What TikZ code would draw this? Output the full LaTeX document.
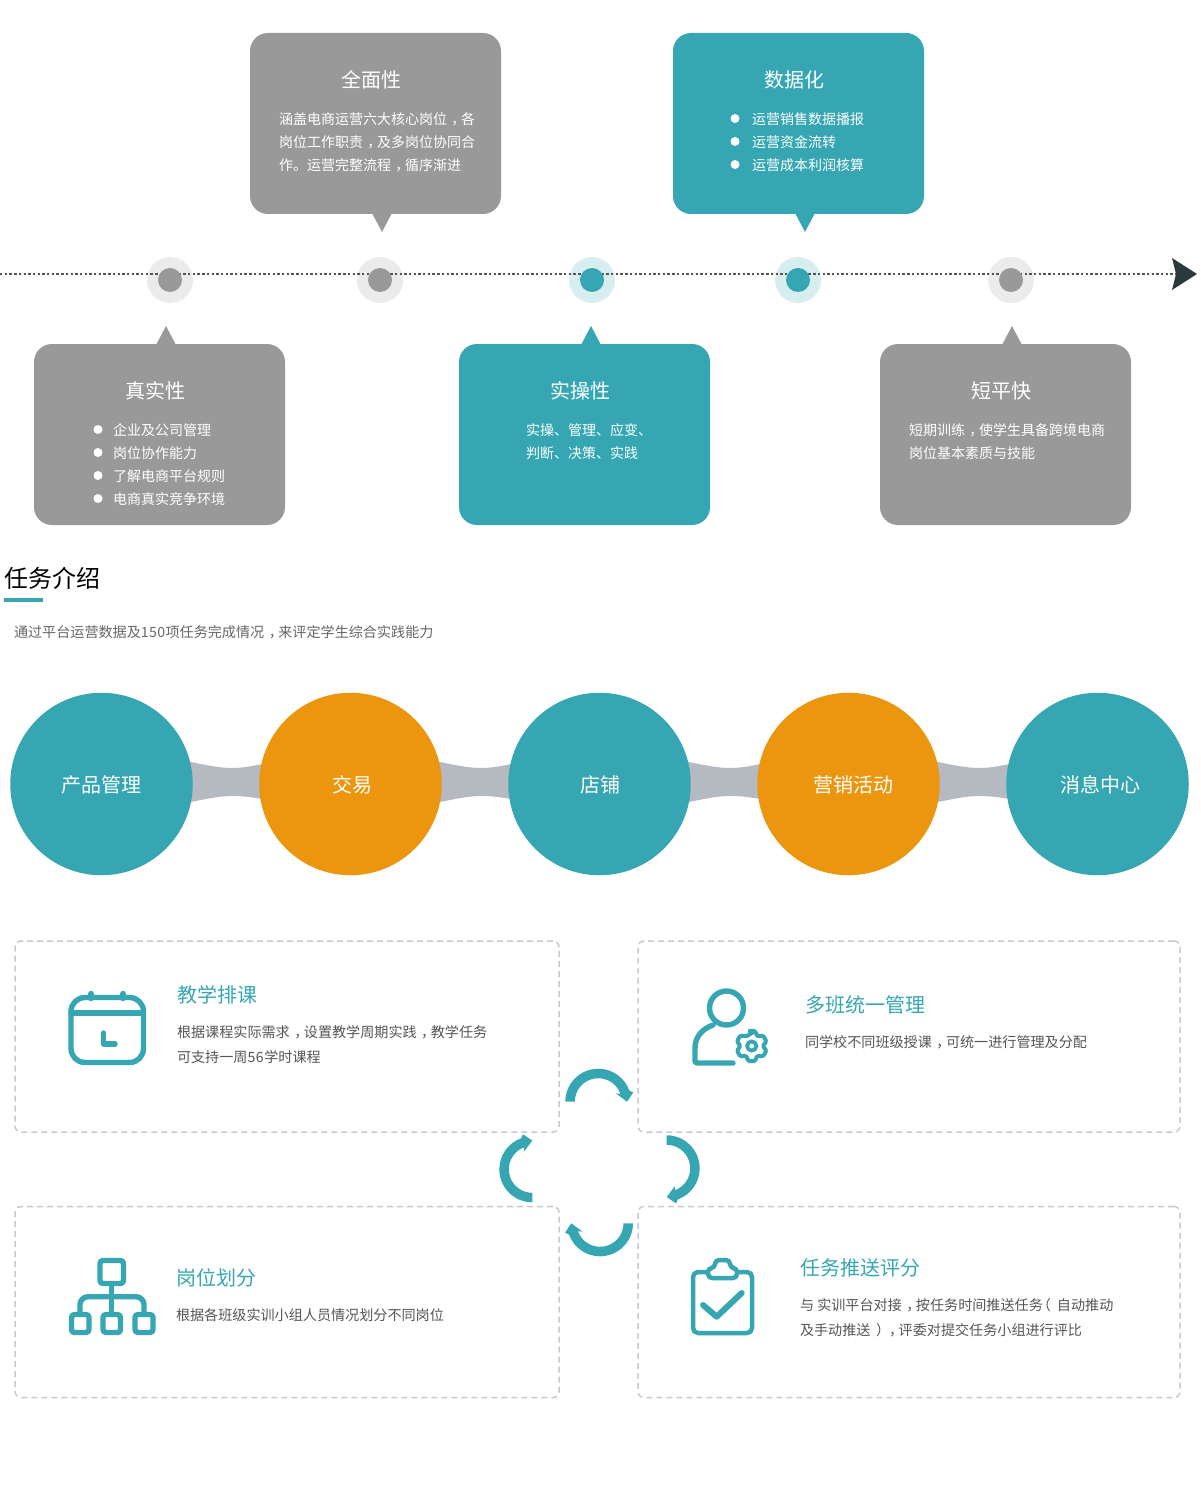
\documentclass[tikz,border=0pt]{standalone}
\usepackage{fontspec}
\setmainfont{Noto Sans CJK SC}
\definecolor{teal}{HTML}{35A6B2}
\definecolor{orng}{HTML}{EC9610}
\definecolor{gry}{HTML}{999999}
\definecolor{halo}{HTML}{EBEBEB}
\definecolor{tealhalo}{HTML}{D7EDF0}
\definecolor{band}{HTML}{B5BAC1}
\definecolor{dashc}{HTML}{C6C9CE}
\definecolor{bodyc}{HTML}{555555}
\definecolor{linec}{HTML}{555555}
\definecolor{arrowc}{HTML}{29393C}
\newcommand{\zc}{\hspace*{.32em}，\hspace*{-.32em}}
\newcommand{\zl}{\hspace*{-.42em}（\hspace*{.42em}}
\newcommand{\zr}{\hspace*{.4em}）\hspace*{-.4em}}
\tikzset{
  txt/.style={inner sep=0pt,outer sep=0pt},
  s14/.style={text height=12.74pt,text depth=1.26pt,font=\fontsize{14}{14}\selectfont},
  s20/.style={text height=17.6pt,text depth=2.4pt,font=\fontsize{20}{20}\selectfont},
  bwhite/.style={txt,s14,anchor=west,text=white},
  twhite/.style={txt,s20,anchor=center,text=white},
  body/.style={txt,s14,anchor=west,text=bodyc,font=\fontsize{14.1}{14}\selectfont},
  ttl/.style={txt,s20,anchor=west,text=teal},
  bubble/.style={rectangle,rounded corners=18pt,minimum width=251pt,minimum height=181pt,inner sep=0pt,outer sep=0pt},
  bigc/.style={circle,minimum size=182.5pt,inner sep=0pt,outer sep=0pt},
  card/.style={rectangle,draw=dashc,line width=1.5pt,dash pattern=on 6pt off 4pt,rounded corners=6pt,inner sep=0pt,outer sep=0pt},
  dothalo/.style={circle,minimum size=46pt,inner sep=0pt,outer sep=0pt},
  dotin/.style={circle,minimum size=24pt,inner sep=0pt,outer sep=0pt},
  bull/.style={circle,fill=white,minimum size=9pt,inner sep=0pt,outer sep=0pt},
  ico/.style={draw=teal,line width=5.4pt,line cap=round,line join=round},
}
\newcommand{\cyclearrow}[3]{%
  \fill[teal,x=1pt,y=1pt,shift={(#1,-#2)},rotate=#3]
    (180:33pt) arc[start angle=180,end angle=20,radius=33pt]
    -- (35pt,9.3pt) -- (28.7pt,0pt) -- (17.7pt,8.3pt)
    -- (20:23.5pt) arc[start angle=20,end angle=180,radius=23.5pt] -- cycle;}
\begin{document}
\begin{tikzpicture}[x=1pt,y=-1pt]
\useasboundingbox (0,0) rectangle (1200,1487);
% timeline halos
\foreach \n/\x/\c in {h1/170/halo,h2/380/halo,h3/592/tealhalo,h4/798/tealhalo,h5/1011/halo}
  \node[dothalo,fill=\c] (\n) at (\x,280) {};
\coordinate (tl0) at (0,274);
\coordinate (tl1) at (1176,274);
\draw[line width=1.3pt,color=linec,dash pattern=on 2.4pt off 2.3pt] (tl0) -- (tl1);
\foreach \n/\x/\c in {d1/170/gry,d2/380/gry,d3/592/teal,d4/798/teal,d5/1011/gry}
  \node[dotin,fill=\c] (\n) at (\x,280) {};
\fill[arrowc] (1172,258) -- (1197,274) -- (1172,290) -- (1176,274) -- cycle;
% bubbles
\node[bubble,fill=gry] (b1) at (375.5,123.5) {};
\fill[gry] (372,213) -- (392,213) -- (382,232) -- cycle;
\node[bubble,fill=teal] (b2) at (798.5,123.5) {};
\fill[teal] (795,213) -- (815,213) -- (805,232) -- cycle;
\node[bubble,fill=gry] (b3) at (159.5,434.5) {};
\fill[gry] (156,345) -- (176,345) -- (166,326) -- cycle;
\node[bubble,fill=teal] (b4) at (584.5,434.5) {};
\fill[teal] (581,345) -- (601,345) -- (591,326) -- cycle;
\node[bubble,fill=gry] (b5) at (1005.5,434.5) {};
\fill[gry] (1002,345) -- (1022,345) -- (1012,326) -- cycle;
% bubble text
\node[twhite] (t1) at (371,80) {全面性};
\node[bwhite] (t1a) at (279,119) {涵盖电商运营六大核心岗位\zc 各};
\node[bwhite] (t1b) at (279,142) {岗位工作职责\zc 及多岗位协同合};
\node[bwhite] (t1c) at (279,165) {作。运营完整流程\zc 循序渐进};
\node[twhite] (t2) at (794,80) {数据化};
\foreach \n/\y/\s in {a/119/运营销售数据播报,b/142/运营资金流转,c/165/运营成本利润核算}{
  \node[bull] (p2\n) at (735,\y-0.5) {};
  \node[bwhite] (t2\n) at (752,\y) {\s};
}
\node[twhite] (t3) at (155,391) {真实性};
\foreach \n/\y/\s in {a/430/企业及公司管理,b/453/岗位协作能力,c/476/了解电商平台规则,d/499/电商真实竞争环境}{
  \node[bull] (p3\n) at (98,\y-0.5) {};
  \node[bwhite] (t3\n) at (113,\y) {\s};
}
\node[twhite] (t4) at (580,391) {实操性};
\node[bwhite] (t4a) at (526,430) {实操、管理、应变、};
\node[bwhite] (t4b) at (526,453) {判断、决策、实践};
\node[twhite] (t5) at (1001,391) {短平快};
\node[bwhite] (t5a) at (909,430) {短期训练\zc 使学生具备跨境电商};
\node[bwhite] (t5b) at (909,453) {岗位基本素质与技能};
% section heading
\node[txt,anchor=west,text height=21.8pt,text depth=2.2pt,font=\fontsize{24}{24}\selectfont] (sec) at (4.5,578) {任务介绍};
\fill[teal] (4,598) rectangle (43,602);
\node[body,text=black!60] (secd) at (14,632) {通过平台运营数据及1\kern.4pt 5\kern.4pt 0\kern.4pt 项任务完成情况\zc 来评定学生综合实践能力};
% chain bands
\foreach \cx in {101,350,599,848}
  \fill[band] (\cx+85,761) .. controls (\cx+105,765) and (\cx+118,768) .. (\cx+131,768)
     .. controls (\cx+145,768) and (\cx+155,765) .. (\cx+167,763) -- (\cx+167,800)
     .. controls (\cx+155,798) and (\cx+145,796) .. (\cx+131,796)
     .. controls (\cx+118,796) and (\cx+105,799) .. (\cx+85,803) -- cycle;
\node[bigc,fill=teal] (c1) at (101.5,784) {};
\node[bigc,fill=orng] (c2) at (350.5,784) {};
\node[bigc,fill=teal] (c3) at (599.5,784) {};
\node[bigc,fill=orng] (c4) at (848.5,784) {};
\node[bigc,fill=teal] (c5) at (1097.5,784) {};
\node[twhite] (ct1) at (101,785) {产品管理};
\node[twhite] (ct2) at (352,785) {交易};
\node[twhite] (ct3) at (600,785) {店铺};
\node[twhite] (ct4) at (853,785) {营销活动};
\node[twhite] (ct5) at (1100,785) {消息中心};
% cards
\node[card,minimum width=544pt,minimum height=191pt] (k1) at (287,1036.5) {};
\node[card,minimum width=542pt,minimum height=191pt] (k2) at (909,1036.5) {};
\node[card,minimum width=544pt,minimum height=191pt] (k3) at (287,1302) {};
\node[card,minimum width=542pt,minimum height=191pt] (k4) at (909,1302) {};
\node[ttl] (kt1) at (177,995) {教学排课};
\node[body] (kt1a) at (177,1032) {根据课程实际需求\zc 设置教学周期实践\zc 教学任务};
\node[body] (kt1b) at (177,1057) {可支持一周5\kern.6pt 6\kern.6pt 学时课程};
\node[ttl] (kt2) at (805,1005) {多班统一管理};
\node[body] (kt2a) at (805,1042) {同学校不同班级授课\zc 可统一进行管理及分配};
\node[ttl] (kt3) at (176,1278) {岗位划分};
\node[body] (kt3a) at (176,1315) {根据各班级实训小组人员情况划分不同岗位};
\node[ttl] (kt4) at (800,1268) {任务推送评分};
\node[body] (kt4a) at (800,1305) {与 实训平台对接\zc 按任务时间推送任务\zl 自动推动};
\node[body] (kt4b) at (800,1330) {及手动推送\zr\zc 评委对提交任务小组进行评比};
% cycle arrows
\cyclearrow{598.3}{1101.7}{0}
\cyclearrow{666.7}{1168.3}{-90}
\cyclearrow{600}{1223.3}{-180}
\cyclearrow{532.3}{1169.3}{-270}
% calendar icon
\draw[ico,rounded corners=14pt] (71,997.5) rectangle (143.5,1062.5);
\draw[ico] (71,1013) -- (143.5,1013);
\draw[ico,line width=6.5pt] (91,994) -- (91,998);
\draw[ico,line width=6.5pt] (123,994) -- (123,998);
\draw[ico] (103.3,1033) -- (103.3,1044) -- (115,1044);
% person icon
\draw[ico] (726.5,1008) circle[radius=17pt];
\draw[ico] (713,1025) .. controls (702,1029) and (695,1037) .. (695,1048) -- (695,1061)
  .. controls (695,1062.5) and (696,1063) .. (698,1063) -- (733,1063);
\begin{scope}[x=1pt,y=1pt,shift={(751.7,-1046)}]
  \draw[draw=teal,line width=4pt,line join=round,rounded corners=1.5pt] (77:15.5pt)
    \foreach \a in {90,30,-30,-90,-150,-210}{
      -- (\a+13:15.5pt) -- (\a-13:15.5pt) -- (\a-30:11pt)
    } -- cycle;
  \draw[draw=teal,line width=3.8pt] (0,0) circle[radius=4.6pt];
\end{scope}
% org chart icon
\draw[ico,rounded corners=3pt] (100,1260.5) rectangle (123.5,1283.5);
\draw[ico,rounded corners=3pt] (71.5,1314.5) rectangle (89,1332.5);
\draw[ico,rounded corners=3pt] (103,1314.5) rectangle (120.5,1332.5);
\draw[ico,rounded corners=3pt] (135,1314.5) rectangle (153,1332.5);
\draw[ico] (111.7,1284) -- (111.7,1314);
\draw[ico,line cap=butt,rounded corners=8pt] (80,1314) -- (80,1296.7) -- (144,1296.7) -- (144,1314);
% clipboard icon
\draw[ico,line width=4.5pt,rounded corners=5pt] (693,1272) rectangle (752,1333);
\draw[ico,line width=4.5pt,fill=white,rounded corners=4pt] (708,1278) -- (708,1268) -- (715,1268) -- (715,1260) -- (730,1260) -- (730,1268) -- (737,1268) -- (737,1278) -- cycle;
\draw[ico,line width=6pt] (703,1305) -- (716.7,1316.7) -- (741.7,1293);
\end{tikzpicture}
\end{document}
